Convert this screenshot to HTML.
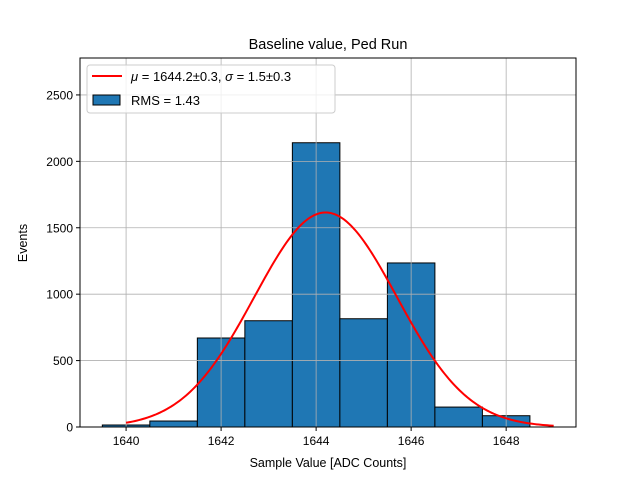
<!DOCTYPE html>
<html><head><meta charset="utf-8"><style>
html,body{margin:0;padding:0;background:#fff;}
svg text{font-family:"Liberation Sans","DejaVu Sans",sans-serif;}
</style></head><body>
<svg id="c" width="640" height="480" xmlns="http://www.w3.org/2000/svg"></svg>
<script>
const binCenters=[1640,1641,1642,1643,1644,1645,1646,1647,1648];
const counts=[15,45,670,800,2140,815,1235,150,85];
const xTicks=[1640,1642,1644,1646,1648];
const yTicks=[0,500,1000,1500,2000,2500];
const fitMu=[1644.2];
const fitSigma=[1.5];
const fitAmp=[1615];
const fitRange=[1640,1649];

const L=80,R=576,T=58,B=427;
const xmin=1639.03,xmax=1649.47,ymin=0,ymax=2778;
const X=v=>L+(v-xmin)/(xmax-xmin)*(R-L);
const Y=v=>B-(v-ymin)/(ymax-ymin)*(B-T);
const svg=document.getElementById('c');
const NS='http://www.w3.org/2000/svg';
function mk(tag,attrs,parent){const e=document.createElementNS(NS,tag);for(const k in attrs)e.setAttribute(k,attrs[k]);(parent||svg).appendChild(e);return e;}

// bars
binCenters.forEach((c,i)=>{const x0=X(c-0.5),x1=X(c+0.5),y=Y(counts[i]);
const r=mk('rect',{x:x0,y:y,width:x1-x0,height:Y(0)-y,fill:'#1f77b4',stroke:'#000','stroke-width':1});

});

// grid (on top of bars)
xTicks.forEach(t=>{const g=mk('line',{x1:X(t),x2:X(t),y1:T,y2:B,stroke:'#b0b0b0','stroke-width':0.8});

});
yTicks.forEach(t=>{const g=mk('line',{x1:L,x2:R,y1:Y(t),y2:Y(t),stroke:'#b0b0b0','stroke-width':0.8});

});

// fit curve
let d='';const n=200;
for(let i=0;i<=n;i++){const v=fitRange[0]+(fitRange[1]-fitRange[0])*i/n;
const f=fitAmp[0]*Math.exp(-Math.pow(v-fitMu[0],2)/(2*fitSigma[0]*fitSigma[0]));
d+=(i?'L':'M')+X(v).toFixed(2)+','+Y(f).toFixed(2);}
const p=mk('path',{d:d,fill:'none',stroke:'red','stroke-width':2});



// axes frame
const fr=mk('rect',{x:L,y:T,width:R-L,height:B-T,fill:'none',stroke:'#000','stroke-width':1});



// ticks
xTicks.forEach(t=>{mk('line',{x1:X(t),x2:X(t),y1:B,y2:B+4,stroke:'#000'});
const tx=mk('text',{x:X(t),y:B+18,'text-anchor':'middle','font-size':12});tx.textContent=t;

});
yTicks.forEach(t=>{mk('line',{x1:L-4,x2:L,y1:Y(t),y2:Y(t),stroke:'#000'});
const tx=mk('text',{x:L-7,y:Y(t)+4.5,'text-anchor':'end','font-size':12});tx.textContent=t;

});
</script>
<svg width="640" height="480" style="position:absolute;left:0;top:0" xmlns="http://www.w3.org/2000/svg">
<text x="328" y="49" text-anchor="middle" font-size="14.5">Baseline value, Ped Run</text>
<text x="328" y="467" text-anchor="middle" font-size="12.5">Sample Value [ADC Counts]</text>
<text x="27" y="243" text-anchor="middle" font-size="12.5" transform="rotate(-90 27 243)">Events</text>
<g>
<rect x="87" y="65" width="248" height="48" rx="3" fill="#fff" fill-opacity="0.8" stroke="#ccc"/>
<line x1="92" y1="76" x2="122" y2="76" stroke="red" stroke-width="2"/>
<text x="131" y="81" font-size="13"><tspan font-style="italic">μ</tspan> = 1644.2±0.3, <tspan font-style="italic">σ</tspan> = 1.5±0.3</text>
<rect x="93" y="95" width="27" height="10" fill="#1f77b4" stroke="#000"/>
<text x="131" y="105" font-size="13">RMS = 1.43</text>
</g>
</svg>
</body></html>
